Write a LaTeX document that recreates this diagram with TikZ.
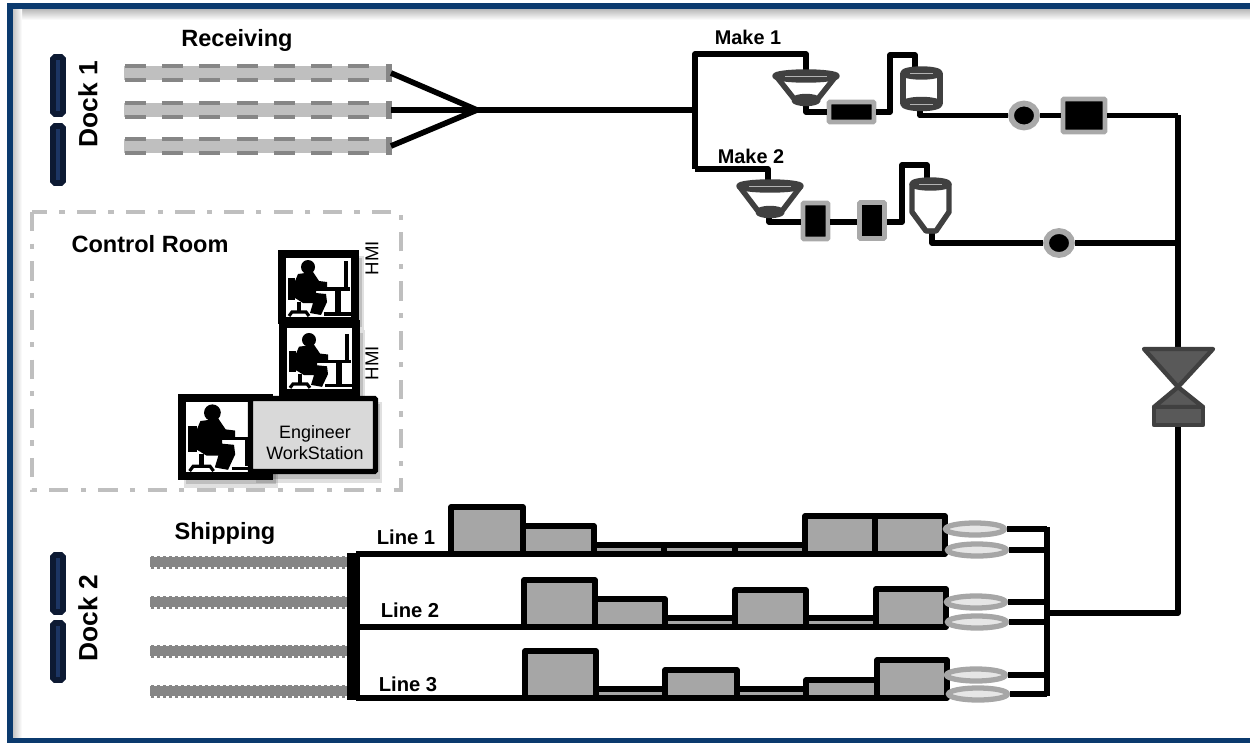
\documentclass[tikz,border=0pt]{standalone}
\usepackage{fontspec}
\setmainfont{Liberation Sans}
\usetikzlibrary{shapes.geometric}
\tikzset{
  pipe/.style={line width=3.2pt, line join=round, black},
  vessel/.style={line width=3.1pt, line join=round, draw=tankgray},
  seat/.style={draw=black, line width=4.5pt, fill=white},
  unit/.style={draw=black, line width=3.2pt, line join=round, fill=boxgray},
  pump/.style={draw=pumpgray, line width=2.6pt, fill=black, rounded corners=0.5pt, inner sep=0pt},
  meter/.style={ellipse, draw=pumpgray, line width=3.3pt, fill=black, inner sep=0pt, minimum width=0.52cm, minimum height=0.48cm},
  loader/.style={ellipse, draw=boxgray, line width=3pt, fill=loadgray, inner sep=0pt, minimum width=1.18cm, minimum height=0.24cm},
  title/.style={font=\bfseries\fontsize{13.4}{14}\selectfont, inner sep=0pt},
  sublabel/.style={font=\bfseries\fontsize{11.5}{13}\selectfont, inner sep=0pt},
  small/.style={font=\fontsize{10.2}{12}\selectfont, inner sep=0pt, align=center},
  pics/desk/.style={code={
    \fill[white] (0,0) rectangle (65,59);
    \fill[black] (22,9) circle (7);
    \fill[black] (12,16)--(27,14)--(33,23)--(41,24)--(41,30)--(30,30)--(30,35)--(40,36)--(41,44)--(35,57)--(24,55)--(27,45)--(17,45)--(9,40)--(7,28)--cycle;
    \fill[black] (2,20) rectangle (9,42);
    \fill[black] (11,44) rectangle (15,54);
    \draw[black, line width=1.8pt] (3,58)--(6,54)--(20,54)--(23,58);
    \draw[black, line width=1.8pt] (27,31)--(64,31);
    \draw[black, line width=2.2pt] (60,3)--(60,31);
    \draw[black, line width=3.4pt] (52,31)--(52,54);
    \draw[black, line width=1.8pt] (38,56)--(65,56);
  }}
}
\definecolor{framenavy}{HTML}{0B3A6E}
\definecolor{docknavy}{HTML}{0D1A33}
\definecolor{dockblue}{HTML}{1C3563}
\definecolor{tankgray}{HTML}{404040}
\definecolor{boxgray}{HTML}{A6A6A6}
\definecolor{pumpgray}{HTML}{A9A9A9}
\definecolor{loadgray}{HTML}{E6E6E6}
\definecolor{beltgray}{HTML}{BFBFBF}
\definecolor{slatgray}{HTML}{868686}
\definecolor{panelgray}{HTML}{D9D9D9}

\begin{document}
\begin{tikzpicture}[x=0.02cm, y=-0.02cm]
\useasboundingbox (0,0) rectangle (1250,743);
\shade[top color=black!35, bottom color=white] (10,6) rectangle (1250,20);
\shade[left color=black!30, right color=white] (10,6) rectangle (22,738);
\draw[framenavy, line width=3.4pt] (1250,6)--(10,6)--(10,740.5)--(1250,740.5);

\foreach \y in {55,124,553,621}{
  \draw[docknavy, fill=dockblue, line width=3.2pt, rounded corners=1pt] (53,\y+2) rectangle (63,\y+59);
}
\node[title, font=\bfseries\fontsize{15}{16}\selectfont, rotate=90] (dock1) at (88,104) {Dock 1};
\node[title, font=\bfseries\fontsize{15}{16}\selectfont, rotate=90] (dock2) at (88,618) {Dock 2};
\node[title] (receiving) at (237,40) {Receiving};
\node[title] (shipping) at (225,533) {Shipping};

\foreach \y in {73,110,146}{
  \fill[beltgray] (124,\y-7) rectangle (388,\y+7);
  \foreach \x in {125,162,199,237,274,311,348}{
    \fill[slatgray] (\x,\y-9) rectangle (\x+21,\y-5);
    \fill[slatgray] (\x,\y+5) rectangle (\x+21,\y+9);
  }
  \fill[slatgray] (386,\y-9) rectangle (392,\y+9);
  \coordinate (belt\y) at (391,\y);
}
\coordinate (merge) at (477,110);
\coordinate (split) at (695,110);
\draw[pipe] (belt73)--(merge);
\draw[pipe] (belt110)--(merge);
\draw[pipe] (belt146)--(merge);
\draw[pipe] (merge)--(split);

\node[sublabel, font=\bfseries\fontsize{11.3}{13}\selectfont] (make1) at (748,37) {Make 1};
\node[sublabel, font=\bfseries\fontsize{11.3}{13}\selectfont] (make2) at (751,156) {Make 2};

\coordinate (upA) at (695,54);
\coordinate (upB) at (695,169);
\coordinate (hopperAin) at (806,71);
\coordinate (hopperAout) at (806,104);
\coordinate (tankAin) at (915,69);
\coordinate (tankAout) at (920,110);
\coordinate (hopperBin) at (768,181);
\coordinate (hopperBout) at (769,216);
\coordinate (tankBin) at (927,179);
\coordinate (tankBout) at (932,230);
\coordinate (mainA) at (1178,115.5);
\coordinate (valveTop) at (1178,347);
\coordinate (valveBottom) at (1178,427);
\coordinate (bus) at (1047,613);
\coordinate (busTop) at (1047,527);
\coordinate (busBottom) at (1047,696);
\coordinate (riseA) at (890,112);
\coordinate (overA) at (890,55);
\coordinate (riseB) at (902,222);
\coordinate (overB) at (902,165);

\draw[pipe] (upB)--(upA)--(hopperAin|-upA)--(hopperAin);
\draw[pipe] (upB)--(hopperBin|-upB)--(hopperBin);
\draw[pipe] (mainA)--(valveTop);
\draw[pipe] (valveBottom)--(valveBottom|-bus)--(bus);
\draw[pipe] (busTop)--(busBottom);

\node[pump, minimum width=0.9cm, minimum height=0.4cm] (pumpA) at (851.5,112) {};
\node[pump, minimum width=0.5cm, minimum height=0.72cm] (pumpB) at (815.5,221) {};
\node[pump, minimum width=0.5cm, minimum height=0.72cm] (pumpC) at (872,220.5) {};
\node[pump, minimum width=0.84cm, minimum height=0.66cm] (pumpD) at (1084,115.5) {};
\node[meter] (meterA) at (1024,115.5) {};
\node[meter] (meterB) at (1059,243) {};

\draw[pipe] (hopperAout)--(hopperAout|-pumpA)--(pumpA.west);
\draw[pipe] (pumpA.east)--(riseA)--(overA)--(tankAin|-overA)--(tankAin);
\draw[pipe] (tankAout)--(tankAout|-meterA)--(meterA.west);
\draw[pipe] (meterA.east)--(pumpD.west);
\draw[pipe] (pumpD.east)--(mainA);
\draw[pipe] (hopperBout)--(hopperBout|-riseB)--(pumpB.west|-riseB);
\draw[pipe] (pumpB.east|-riseB)--(pumpC.west|-riseB);
\draw[pipe] (pumpC.east|-riseB)--(riseB)--(overB)--(tankBin|-overB)--(tankBin);
\draw[pipe] (tankBout)--(tankBout|-meterB)--(meterB.west);
\draw[pipe] (meterB.east)--(mainA|-meterB);

\draw[vessel] (776,76)--(795,100);
\draw[vessel] (836,76)--(817,100);
\draw[vessel, fill=tankgray] (806,76) ellipse (31 and 4);
\draw[vessel, fill=tankgray] (806,100) ellipse (12 and 3.5);
\draw[white!60!tankgray, line width=0.5pt] (785,76)--(827,76);
\draw[vessel] (739,186)--(758,211);
\draw[vessel] (801,186)--(782,211);
\draw[vessel, fill=tankgray] (770,186) ellipse (31 and 4);
\draw[vessel, fill=tankgray] (770,212) ellipse (12 and 3.5);
\draw[white!60!tankgray, line width=0.5pt] (749,186)--(791,186);
\draw[vessel] (903,73)--(903,104);
\draw[vessel] (940,73)--(940,104);
\draw[vessel, fill=tankgray] (921.5,73) ellipse (18.5 and 4);
\draw[vessel, fill=tankgray] (921.5,104) ellipse (18.5 and 4.5);
\draw[white!60!tankgray, line width=0.5pt] (910,73)--(933,73);
\draw[white!60!tankgray, line width=0.5pt] (910,104)--(933,104);
\draw[vessel] (912,184)--(912,212)--(926,231)--(936,231)--(949,212)--(949,184);
\draw[vessel, fill=tankgray] (930.5,184) ellipse (18.5 and 4);
\draw[white!60!tankgray, line width=0.5pt] (919,184)--(942,184);
\fill[tankgray] (931,231) ellipse (8 and 2.5);

\draw[tankgray, line width=2.5pt, fill=black!65, line join=round] (1144,349)--(1213,349)--(1178,387)--cycle;
\draw[tankgray, line width=2.5pt, fill=black!65, line join=round] (1178,387)--(1154,407)--(1203,407)--cycle;
\draw[tankgray, line width=2.5pt, fill=black!65, line join=round] (1154,407) rectangle (1203,425);

\draw[beltgray, line width=2.3pt, dash pattern=on 11pt off 7pt on 3pt off 7pt] (32,212) rectangle (401,490);
\node[title] (control) at (150,244) {Control Room};

\fill[black, opacity=0.12] (283,256) rectangle (364,330);
\fill[black, opacity=0.12] (285,330) rectangle (365,404);
\fill[black, opacity=0.12] (184,400) rectangle (278,488);
\fill[black, opacity=0.12] (256,402) rectangle (382,483);
\fill[black, opacity=0.15] (285,258) rectangle (362,327);
\fill[black, opacity=0.15] (285,333) rectangle (363,401);
\fill[black, opacity=0.15] (186,402) rectangle (276,484);
\fill[black, opacity=0.15] (258,404) rectangle (380,479);
\draw[seat] (282,254) rectangle (355,320);
\pic at (286,258) {desk};
\draw[seat] (283,324) rectangle (356,393);
\pic[yscale=0.98] at (287,331) {desk};
\draw[seat] (182,398) rectangle (269,476);
\pic[xscale=1.2, yscale=1.19] at (186,402) {desk};
\node[draw=black, line width=2.9pt, fill=panelgray, minimum width=2.5cm, minimum height=1.46cm, outer sep=0pt, rounded corners=0.5pt] (station) at (313,435) {};
\node[small] (stationtext) at (315,442.5) {Engineer\\WorkStation};
\node[small, font=\fontsize{10.6}{13}\selectfont, rotate=90] (hmi1) at (372,258) {HMI};
\node[small, font=\fontsize{10.6}{13}\selectfont, rotate=90] (hmi2) at (372,363) {HMI};

\foreach \y in {562,602,651,691}{
  \draw[slatgray, line width=5.4pt] (150,\y)--(350,\y);
  \draw[slatgray, line width=7.4pt, dash pattern=on 1.8pt off 1.6pt] (151,\y)--(350,\y);
}
\node[sublabel] (line1) at (406,537) {Line 1};
\node[sublabel] (line2) at (410,610) {Line 2};
\node[sublabel] (line3) at (408,684) {Line 3};

\foreach \xa/\xb/\ya/\yb in {
  451/523/507/554, 523/594/526/554, 594/664/545/554, 664/735/545/554, 735/805/545/554, 805/875/516/554, 875/945/516/554,
  524/595/580/627, 595/665/599/627, 665/735/618/627, 735/806/590/627, 806/876/618/627, 876/946/589/627,
  525/596/651/698, 596/665/689/698, 665/737/670/698, 737/806/689/698, 806/877/680/698, 877/947/660/698}{
  \draw[unit] (\xa,\ya) rectangle (\xb,\yb);
}
\fill[black] (347,553) rectangle (360,700);
\draw[pipe] (356,554)--(945,554);
\draw[pipe] (356,627)--(946,627);
\draw[pipe] (356,698)--(947,698);

\foreach \nm/\x/\y in {la/975/529, lb/977/550, lc/976/602, ld/977/622, le/976/675, lf/978/694}{
  \node[loader] (\nm) at (\x,\y) {};
  \draw[pipe] (\nm.east)--(busTop|-\nm);
}
\end{tikzpicture}
\end{document}
